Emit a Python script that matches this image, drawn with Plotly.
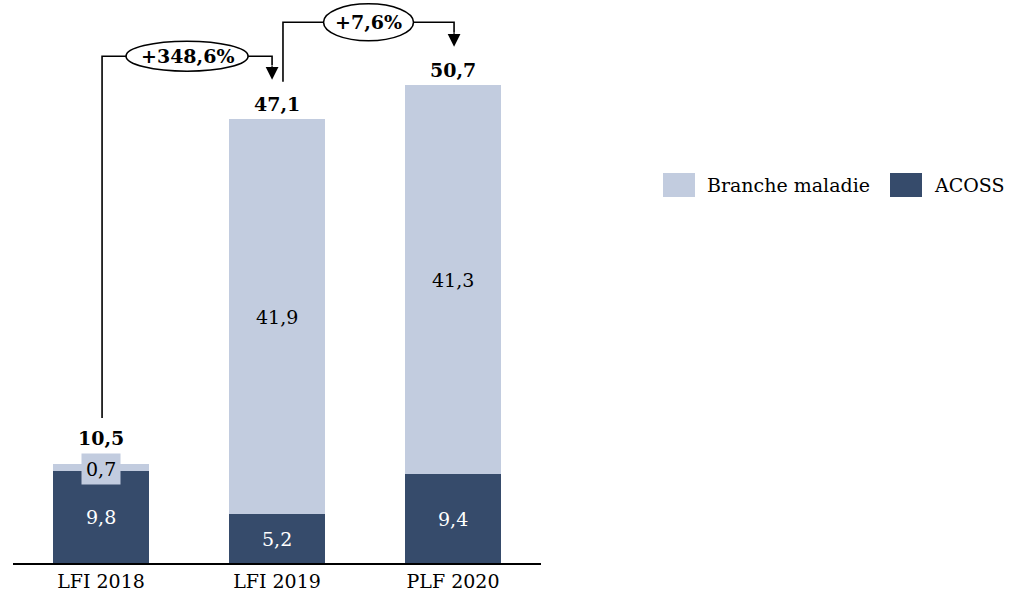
import plotly.graph_objects as go

categories = ["LFI 2018", "LFI 2019", "PLF 2020"]
acoss = [9.8, 5.2, 9.4]
branche_maladie = [0.7, 41.9, 41.3]
totals = [10.5, 47.1, 50.7]
acoss_labels = ["9,8", "5,2", "9,4"]
maladie_labels = ["0,7", "41,9", "41,3"]
total_labels = ["10,5", "47,1", "50,7"]
growth_labels = ["+348,6%", "+7,6%"]

DARK = "#364B6B"
LIGHT = "#C2CCDF"
FONT = "DejaVu Serif, serif"
FS = 19

fig = go.Figure()
fig.add_trace(go.Bar(x=categories, y=acoss, name="ACOSS", marker_color=DARK,
                     marker_line_width=0, showlegend=False, hoverinfo="skip"))
fig.add_trace(go.Bar(x=categories, y=branche_maladie, name="Branche maladie",
                     marker_color=LIGHT, marker_line_width=0, showlegend=False, hoverinfo="skip"))

annotations = []
shapes = []
for i, c in enumerate(categories):
    annotations.append(dict(x=c, y=acoss[i] / 2, text=acoss_labels[i], showarrow=False,
                            font=dict(family=FONT, size=FS, color="white")))
    small = branche_maladie[i] < 3
    annotations.append(dict(x=c, y=acoss[i] + branche_maladie[i] / 2, text=maladie_labels[i],
                            showarrow=False, font=dict(family=FONT, size=FS, color="black"),
                            bgcolor=LIGHT if small else None, borderpad=4 if small else 0,
                            yshift=-2 if small else 0))
    annotations.append(dict(x=c, y=totals[i], text="<b>" + total_labels[i] + "</b>",
                            showarrow=False, yanchor="bottom", yshift=13 if small else 2,
                            font=dict(family=FONT, size=FS, color="black")))

start_gap = [4.9, 4.0]
end_gap = [4.2, 4.1]
x_off_start = [0.006, 0.034]
x_off_end = [-0.028, 0.006]
ell_w = [122, 90]
ell_h = [30, 37]
for k in range(2):
    xs = k + x_off_start[k]
    xe = k + 1 + x_off_end[k]
    ys = totals[k] + start_gap[k]
    ye = totals[k + 1] + end_gap[k]
    level = max(totals[k], totals[k + 1]) + 6.7
    shapes.append(dict(type="path", xref="x", yref="y",
                       path=f"M {xs},{ys} L {xs},{level} L {xe},{level} L {xe},{ye + 1.5}",
                       line=dict(color="black", width=1.6)))
    annotations.append(dict(x=xe, y=ye, ax=xe, ay=ye + 1.6, xref="x", yref="y",
                            axref="x", ayref="y", text="", showarrow=True,
                            arrowhead=2, arrowsize=1.6, arrowwidth=1.6, arrowcolor="black"))
    xm = (xs + xe) / 2
    shapes.append(dict(type="circle", xref="x", yref="y", xsizemode="pixel", ysizemode="pixel",
                       xanchor=xm, yanchor=level, x0=-ell_w[k] / 2, x1=ell_w[k] / 2,
                       y0=-ell_h[k] / 2, y1=ell_h[k] / 2,
                       fillcolor="white", line=dict(color="black", width=1.6)))
    annotations.append(dict(x=xm, y=level, text="<b>" + growth_labels[k] + "</b>",
                            showarrow=False, font=dict(family=FONT, size=FS, color="black")))

legend_items = [("Branche maladie", LIGHT, 663, 705), ("ACOSS", DARK, 890, 932)]
plot_l, plot_w = 13, 528
for name, col, px0, ptx in legend_items:
    x0 = (px0 - plot_l) / plot_w
    x1 = (px0 + 32 - plot_l) / plot_w
    shapes.append(dict(type="rect", xref="paper", yref="paper", x0=x0, x1=x1,
                       y0=(563 - 197) / 563, y1=(563 - 173) / 563,
                       fillcolor=col, line_width=0))
    annotations.append(dict(xref="paper", yref="paper", x=(ptx - plot_l) / plot_w,
                            y=(563 - 185) / 563, text=name, showarrow=False,
                            xanchor="left", yanchor="middle",
                            font=dict(family=FONT, size=FS, color="black")))

fig.update_layout(
    barmode="stack",
    bargap=0.45,
    width=1021, height=613,
    margin=dict(l=13, r=480, t=0, b=50),
    paper_bgcolor="white", plot_bgcolor="white",
    font=dict(family=FONT, size=FS, color="black"),
    shapes=shapes, annotations=annotations,
    hovermode=False,
    xaxis=dict(range=[-0.5, 2.5], showline=True, linecolor="black", linewidth=1.6,
               ticks="", showgrid=False, tickfont=dict(family=FONT, size=FS, color="black")),
    yaxis=dict(range=[0, 563 / 9.42], visible=False, showgrid=False, zeroline=False),
)

fig.write_html("out.html", config={"displayModeBar": False},
               post_script="document.body.style.margin='0';")
